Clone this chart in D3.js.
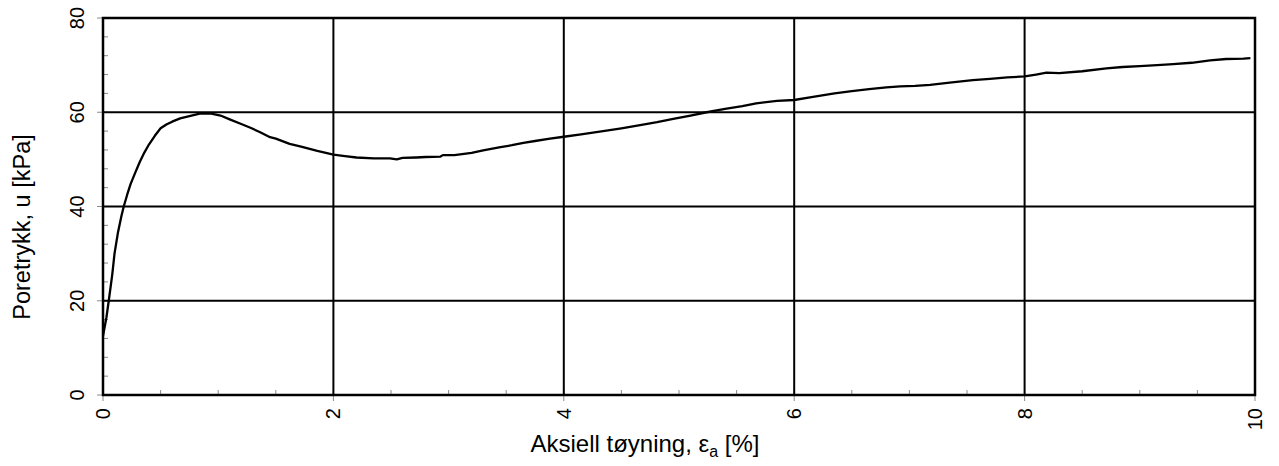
<!DOCTYPE html>
<html>
<head>
<meta charset="utf-8">
<script src="https://cdn.jsdelivr.net/npm/d3@7"></script>
<style>
  html, body { margin: 0; padding: 0; background: #fff; }
  svg { display: block; }
  text { font-family: "Liberation Sans", Arial, sans-serif; fill: #000; }
</style>
</head>
<body>
<svg id="chart" width="1279" height="466"></svg>
<script>
// Axial strain [%] and measured pore pressure [kPa]
const strain = [0, 0.03, 0.05, 0.08, 0.10, 0.13, 0.16, 0.18, 0.21, 0.24, 0.28, 0.32, 0.36, 0.40, 0.45,
  0.50, 0.55, 0.60, 0.67, 0.75, 0.84, 0.94, 1.02, 1.10, 1.20, 1.28, 1.36, 1.45, 1.50, 1.62, 1.72, 1.86,
  2.00, 2.10, 2.20, 2.35, 2.49, 2.55, 2.60, 2.72, 2.80, 2.93, 2.95, 3.05, 3.20, 3.30, 3.45, 3.55, 3.65,
  3.75, 3.88, 4.00, 4.15, 4.37, 4.50, 4.65, 4.81, 4.95, 5.10, 5.24, 5.40, 5.55, 5.67, 5.85, 6.00, 6.15,
  6.35, 6.50, 6.65, 6.80, 6.92, 7.05, 7.18, 7.35, 7.55, 7.70, 7.85, 8.00, 8.10, 8.19, 8.30, 8.50, 8.71,
  8.85, 9.00, 9.15, 9.29, 9.45, 9.61, 9.75, 9.90, 9.96];
const porePressure = [12.5, 16.5, 20.0, 25.5, 30.0, 34.5, 38.0, 40.0, 42.5, 44.8, 47.2, 49.5, 51.5, 53.2, 55.0,
  56.6, 57.4, 58.0, 58.7, 59.2, 59.7, 59.7, 59.3, 58.5, 57.5, 56.7, 55.8, 54.7, 54.4, 53.3, 52.7, 51.8,
  51.0, 50.7, 50.4, 50.2, 50.2, 50.0, 50.3, 50.4, 50.5, 50.6, 50.9, 50.9, 51.4, 51.9, 52.6, 53.0, 53.5,
  53.9, 54.4, 54.8, 55.3, 56.1, 56.6, 57.2, 57.9, 58.6, 59.3, 60.0, 60.7, 61.3, 61.9, 62.4, 62.6, 63.2,
  64.0, 64.5, 64.9, 65.3, 65.5, 65.6, 65.8, 66.3, 66.8, 67.1, 67.4, 67.6, 68.0, 68.4, 68.3, 68.7, 69.3,
  69.6, 69.8, 70.0, 70.2, 70.5, 71.0, 71.3, 71.4, 71.5];

const xTicks = [0, 2, 4, 6, 8, 10];
const yTicks = [0, 20, 40, 60, 80];
const xTitle = "Aksiell tøyning, ";
const yTitle = "Poretrykk, u [kPa]";

const svg = d3.select("#chart");
const plotLeft = 103, plotRight = 1255, plotTop = 18, plotBottom = 395;

const x = d3.scaleLinear().domain([0, 10]).range([plotLeft, plotRight]);
const y = d3.scaleLinear().domain([0, 80]).range([plotBottom, plotTop]);

const tickColor = "#8a8a8a";

// minor ticks inside the frame
const xMinor = d3.range(0.5, 10, 0.5);
const yMinor = d3.range(4, 80, 4);
svg.append("g").selectAll("line").data(xMinor).join("line")
  .attr("x1", d => x(d)).attr("x2", d => x(d))
  .attr("y1", plotBottom).attr("y2", plotBottom - 5)
  .attr("stroke", tickColor).attr("stroke-width", 1);
svg.append("g").selectAll("line").data(yMinor).join("line")
  .attr("x1", plotLeft).attr("x2", plotLeft + 5)
  .attr("y1", d => y(d)).attr("y2", d => y(d))
  .attr("stroke", tickColor).attr("stroke-width", 1);

// major ticks outside the frame
svg.append("g").selectAll("line").data(xTicks).join("line")
  .attr("x1", d => x(d)).attr("x2", d => x(d))
  .attr("y1", plotBottom).attr("y2", plotBottom + 6)
  .attr("stroke", tickColor).attr("stroke-width", 1);
svg.append("g").selectAll("line").data(yTicks).join("line")
  .attr("x1", plotLeft - 6).attr("x2", plotLeft)
  .attr("y1", d => y(d)).attr("y2", d => y(d))
  .attr("stroke", tickColor).attr("stroke-width", 1);

// grid lines
svg.append("g").selectAll("line").data(xTicks.slice(1, -1)).join("line")
  .attr("x1", d => x(d)).attr("x2", d => x(d))
  .attr("y1", plotTop).attr("y2", plotBottom)
  .attr("stroke", "#000").attr("stroke-width", 2);
svg.append("g").selectAll("line").data(yTicks.slice(1, -1)).join("line")
  .attr("x1", plotLeft).attr("x2", plotRight)
  .attr("y1", d => y(d)).attr("y2", d => y(d))
  .attr("stroke", "#000").attr("stroke-width", 2);

// curve
const line = d3.line().x((d, i) => x(strain[i])).y(d => y(d));
svg.append("path")
  .attr("d", line(porePressure))
  .attr("fill", "none").attr("stroke", "#000")
  .attr("stroke-width", 2.3).attr("stroke-linejoin", "round");

// frame
svg.append("rect")
  .attr("x", plotLeft).attr("y", plotTop)
  .attr("width", plotRight - plotLeft).attr("height", plotBottom - plotTop)
  .attr("fill", "none").attr("stroke", "#000").attr("stroke-width", 2.5);

// tick labels (rotated)
svg.append("g").selectAll("text").data(xTicks).join("text")
  .attr("transform", d => `translate(${x(d) + 7},${plotBottom + 13}) rotate(-90)`)
  .attr("text-anchor", "end")
  .style("font-size", "20px")
  .text(d => d);
svg.append("g").selectAll("text").data(yTicks).join("text")
  .attr("transform", d => `translate(84,${y(d)}) rotate(-90)`)
  .attr("text-anchor", "middle")
  .style("font-size", "20px")
  .text(d => d);

// axis titles
const xt = svg.append("text")
  .attr("x", 645).attr("y", 452)
  .attr("text-anchor", "middle")
  .style("font-size", "24px");
xt.append("tspan").text(xTitle + "ε");
xt.append("tspan").attr("dy", 5).style("font-size", "16px").text("a");
xt.append("tspan").attr("dy", -5).text(" [%]");

svg.append("text")
  .attr("transform", "translate(30,227) rotate(-90)")
  .attr("text-anchor", "middle")
  .style("font-size", "23.5px")
  .text(yTitle);
</script>
</body>
</html>
